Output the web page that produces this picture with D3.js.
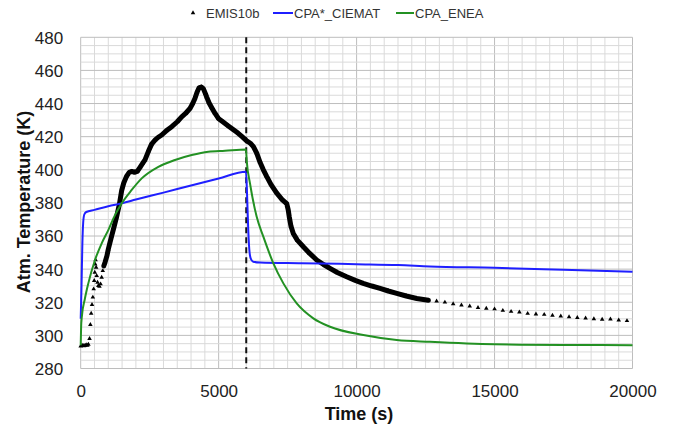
<!DOCTYPE html>
<html>
<head>
<meta charset="utf-8">
<script src="https://cdn.jsdelivr.net/npm/d3@7"></script>
<style>
  html, body { margin: 0; padding: 0; background: #fff; }
  svg { display: block; font-family: "Liberation Sans", Arial, sans-serif; }
</style>
</head>
<body>
<svg id="chart" width="673" height="428"></svg>
<script>
// Measured atmosphere temperature (EMIS10b) — [time s, temperature K]
const emisSparseStart = [
  [0, 293.5], [40, 293.8], [80, 294], [120, 293.6], [160, 294], [200, 294.2],
  [240, 294], [280, 294.5], [320, 298], [350, 306.5], [380, 313.3], [410, 318.5],
  [440, 323], [470, 328], [490, 333], [510, 338], [525, 343], [540, 345.5],
  [560, 341], [580, 336], [610, 332], [640, 330], [680, 329.5], [720, 331],
  [760, 335], [800, 339], [840, 342]
];
const emisDense = [
  [840, 342], [880, 344], [950, 348], [1000, 352], [1060, 356], [1120, 360], [1200, 365],
  [1300, 371.5], [1400, 379], [1485, 387.5], [1560, 392], [1660, 396], [1760, 398.5],
  [1850, 399], [1950, 398.5], [2050, 399], [2150, 401.5], [2250, 404], [2330, 406],
  [2450, 411], [2570, 415.5], [2700, 418], [2800, 419.5], [2935, 421], [3100, 423.5],
  [3300, 426], [3500, 429], [3660, 432], [3800, 434], [3960, 437], [4060, 440],
  [4140, 443], [4220, 447], [4290, 449.5], [4370, 450], [4445, 449], [4520, 446],
  [4565, 444], [4650, 440.5], [4750, 437.5], [4870, 434], [4990, 431], [5150, 429],
  [5350, 426.5], [5550, 424], [5710, 422], [5850, 420], [6015, 417.5], [6150, 416],
  [6260, 414], [6380, 410], [6500, 404.5], [6620, 400], [6740, 396], [6900, 391],
  [7100, 386], [7300, 382], [7467, 379.5], [7520, 376], [7560, 371.5], [7620, 366],
  [7705, 361.5], [7850, 357.5], [8070, 353.5], [8300, 349.5], [8555, 345.5], [8800, 342.8],
  [9035, 340.5], [9300, 338], [9640, 335.4], [9950, 333.2], [10240, 331.4], [10550, 329.8],
  [10850, 328.4], [11150, 326.8], [11455, 325.4], [11800, 323.8], [12180, 322.3], [12600, 321.2]
];
const emisTailTime = [
  12900, 13200, 13500, 13800, 14100, 14400, 14700, 15000, 15300, 15600, 15900, 16200,
  16500, 16800, 17100, 17400, 17700, 18000, 18300, 18600, 18900, 19200, 19500, 19800
];
const emisTailTemp = [
  320.7, 320.0, 319.0, 318.2, 317.6, 316.8, 316.3, 315.9, 315.0, 314.4, 314.0, 313.2,
  312.8, 312.6, 312.1, 311.6, 311.1, 310.7, 310.4, 310.0, 309.6, 309.8, 309.2, 308.8
];

// CPA*_CIEMAT simulation
const cpaCiemat = [
  [0, 310], [30, 330], [60, 355], [90, 368], [130, 373], [200, 374.5], [500, 375.8],
  [1000, 378], [1500, 379.8], [2000, 382], [3000, 386.2], [4000, 390.5], [5000, 394.7],
  [5990, 398.8], [6030, 385], [6070, 365], [6110, 352], [6160, 346.5], [6250, 344.5],
  [6500, 344], [8000, 343.6], [10000, 343], [11500, 342.5], [12660, 341.6], [15000, 340.8],
  [17500, 339.6], [20000, 338.4]
];

// CPA_ENEA simulation
const cpaEnea = [
  [0, 294], [15, 305], [40, 311.2], [150, 322], [276, 331.4], [518, 345.5], [761, 355.6],
  [1000, 363.6], [1243, 372.6], [1485, 379.7], [1848, 387.8], [2211, 394.8], [2815, 401.8],
  [3418, 405.9], [4023, 408.9], [4625, 410.9], [5230, 411.5], [5990, 412.3], [6020, 405],
  [6136, 391.8], [6379, 371.6], [6620, 359.6], [6983, 343.5], [7346, 331.4], [7830, 319.3],
  [8432, 310.3], [9036, 305.2], [10243, 300.2], [11455, 297.2], [12660, 296.1],
  [15000, 294.6], [17500, 294.2], [20000, 294.1]
];

// Time at which the phase changes (vertical dashed marker)
const phaseChange = 6000;

const xTicks = [0, 5000, 10000, 15000, 20000];
const yTicks = [280, 300, 320, 340, 360, 380, 400, 420, 440, 460, 480];

const legendItems = [
  { name: "EMIS10b", kind: "marker", color: "#000" },
  { name: "CPA*_CIEMAT", kind: "line", color: "#1f1fff" },
  { name: "CPA_ENEA", kind: "line", color: "#239123" }
];

const svg = d3.select("#chart");
const plotLeft = 80.7, plotRight = 632.5, plotTop = 37.3, plotBottom = 368.5;

const x = d3.scaleLinear().domain([0, 20000]).range([plotLeft, plotRight]);
const y = d3.scaleLinear().domain([280, 480]).range([plotBottom, plotTop]);

// Grid: minor every 500 s / 5 K, major every 5000 s / 20 K
const grid = svg.append("g");
d3.range(0, 20001, 500).forEach(v => {
  const major = v % 5000 === 0;
  grid.append("line")
    .attr("x1", x(v)).attr("x2", x(v)).attr("y1", plotTop).attr("y2", plotBottom)
    .attr("stroke", major ? "#bdbdbd" : "#dadada").attr("stroke-width", 1);
});
d3.range(280, 481, 5).forEach(v => {
  const major = v % 20 === 0;
  grid.append("line")
    .attr("x1", plotLeft).attr("x2", plotRight).attr("y1", y(v)).attr("y2", y(v))
    .attr("stroke", major ? "#bdbdbd" : "#dadada").attr("stroke-width", 1);
});

// Axes
const xAxis = svg.append("g")
  .attr("transform", `translate(0,${plotBottom})`)
  .call(d3.axisBottom(x).tickValues(xTicks).tickSize(0).tickFormat(d3.format("d")));
xAxis.select(".domain").remove();
xAxis.selectAll("text")
  .attr("y", 28).attr("dy", null)
  .attr("font-size", 17).attr("fill", "#222")
  .attr("font-family", "Liberation Sans, Arial, sans-serif");

const yAxis = svg.append("g")
  .attr("transform", `translate(${plotLeft},0)`)
  .call(d3.axisLeft(y).tickValues(yTicks).tickSize(0));
yAxis.select(".domain").remove();
yAxis.selectAll("text")
  .attr("x", -17.5).attr("dy", "0.35em")
  .attr("font-size", 17).attr("fill", "#222")
  .attr("font-family", "Liberation Sans, Arial, sans-serif");

// Axis titles
svg.append("text")
  .attr("x", 359).attr("y", 420)
  .attr("text-anchor", "middle")
  .attr("font-size", 18).attr("font-weight", "bold").attr("fill", "#111")
  .text("Time (s)");
svg.append("text")
  .attr("transform", `translate(30,202) rotate(-90)`)
  .attr("text-anchor", "middle")
  .attr("font-size", 18).attr("font-weight", "bold").attr("fill", "#111")
  .text("Atm. Temperature (K)");

// Phase-change marker
svg.append("line")
  .attr("x1", x(phaseChange)).attr("x2", x(phaseChange))
  .attr("y1", plotTop).attr("y2", plotBottom)
  .attr("stroke", "#111").attr("stroke-width", 2)
  .attr("stroke-dasharray", "6,4");

const line = d3.line().x(d => x(d[0])).y(d => y(d[1]));
const tri = d3.symbol().type(d3.symbolTriangle).size(9);

// EMIS10b: dense stretch appears as a solid band of markers
svg.append("path")
  .datum(emisDense)
  .attr("d", line)
  .attr("fill", "none").attr("stroke", "#000")
  .attr("stroke-width", 5)
  .attr("stroke-linejoin", "round").attr("stroke-linecap", "round");

const emisTail = emisTailTime.map((t, i) => [t, emisTailTemp[i]]);
svg.append("g")
  .selectAll("path")
  .data(emisSparseStart.concat(emisDense, emisTail))
  .join("path")
  .attr("d", tri)
  .attr("transform", d => `translate(${x(d[0])},${y(d[1])})`)
  .attr("fill", "#000");

// Simulation curves
const smooth = d3.line().x(d => x(d[0])).y(d => y(d[1])).curve(d3.curveMonotoneX);
svg.append("path")
  .datum(cpaCiemat)
  .attr("d", smooth)
  .attr("fill", "none").attr("stroke", legendItems[1].color).attr("stroke-width", 2);
svg.append("path")
  .datum(cpaEnea)
  .attr("d", smooth)
  .attr("fill", "none").attr("stroke", legendItems[2].color).attr("stroke-width", 2);

// Legend
const legend = svg.append("g").attr("font-size", 13).attr("fill", "#333");
const legendPos = [
  { sym: 193, text: 206 },
  { sym: 273, text: 294 },
  { sym: 396, text: 415 }
];
legendItems.forEach((it, i) => {
  const p = legendPos[i];
  if (it.kind === "marker") {
    legend.append("path").attr("d", tri)
      .attr("transform", `translate(${p.sym},13)`).attr("fill", it.color);
  } else {
    legend.append("line")
      .attr("x1", p.sym).attr("x2", p.text - 1).attr("y1", 13).attr("y2", 13)
      .attr("stroke", it.color).attr("stroke-width", 2);
  }
  legend.append("text").attr("x", p.text).attr("y", 17.5).text(it.name);
});
</script>
</body>
</html>
